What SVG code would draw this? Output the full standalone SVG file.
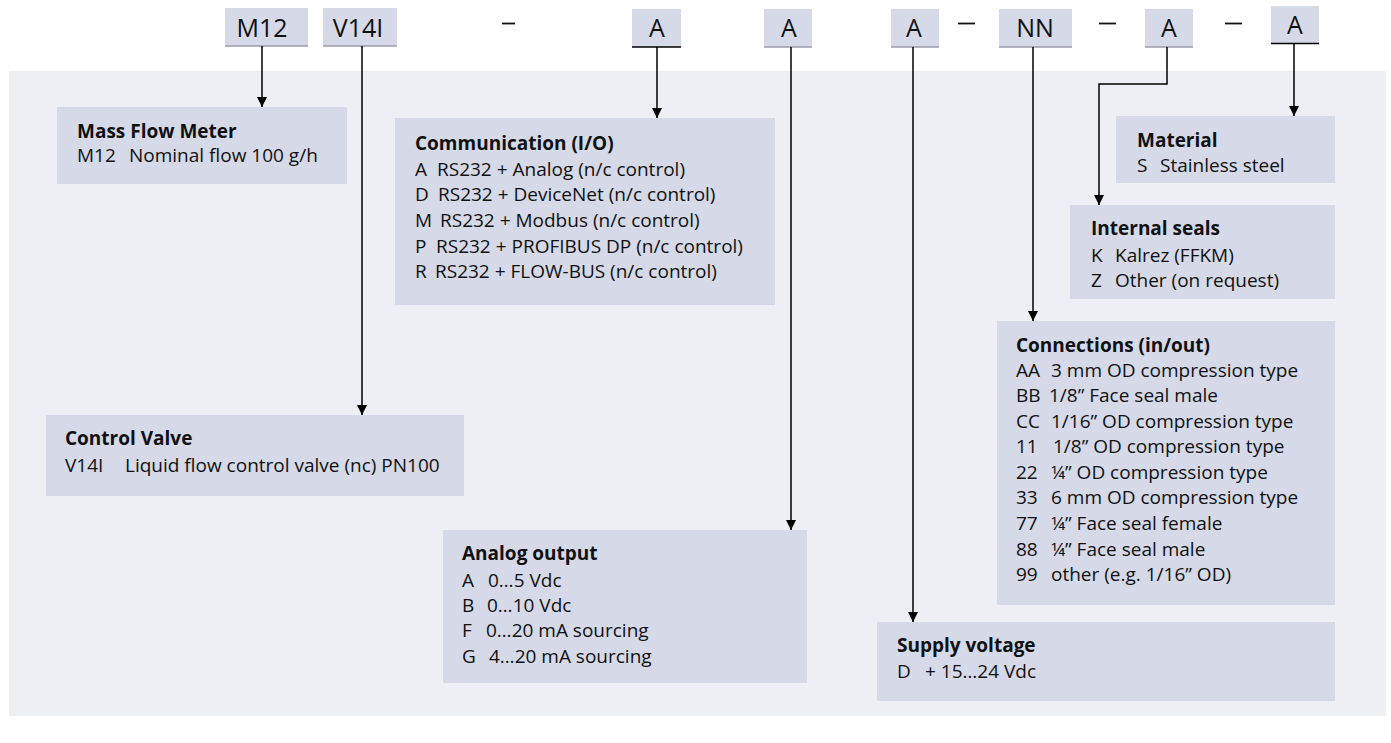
<svg xmlns="http://www.w3.org/2000/svg" width="1391" height="743" viewBox="0 0 1391 743">
<style>
.panel{fill:#eeeff5}
.box{fill:#d5d9e8}
.hb{fill:#d5d9e8}
.hl{stroke:#9c9cac;stroke-width:1.5}
.hk{stroke:#000;stroke-width:1.5}
.ht{font-family:"Open Sans","Liberation Sans",sans-serif;font-size:25px;fill:#111;text-anchor:middle}
.t{font-family:"Open Sans","Liberation Sans",sans-serif;font-size:19px;fill:#111}
.b{font-weight:bold}
.c{fill:none;stroke:#000;stroke-width:1.5}
.dash{stroke:#111;stroke-width:1.8}
</style>
<defs>
<marker id="ah" viewBox="0 0 10 10" refX="10" refY="5" markerWidth="11" markerHeight="10" markerUnits="userSpaceOnUse" orient="auto">
<path d="M0,0 L10,5 L0,10 z" fill="#000"/>
</marker>
</defs>
<rect class="panel" x="9" y="71" width="1377" height="645"/>

<g id="header">
<g id="h-m12"><rect class="hb" x="225" y="8" width="83" height="38"/><line class="hl" x1="225" y1="46" x2="308" y2="46"/><text class="ht" x="262" y="37">M12</text></g>
<g id="h-v14i"><rect class="hb" x="323" y="8" width="74" height="38"/><line class="hl" x1="323" y1="46" x2="397" y2="46"/><text class="ht" x="358" y="37">V14I</text></g>
<line class="dash" x1="502" y1="23.5" x2="515" y2="23.5"/>
<g id="h-a1"><rect class="hb" x="632" y="9" width="49" height="38"/><line class="hk" x1="632" y1="47" x2="681" y2="47"/><text class="ht" x="657" y="37">A</text></g>
<g id="h-a2"><rect class="hb" x="764" y="9" width="48" height="38"/><line class="hl" x1="764" y1="47" x2="812" y2="47"/><text class="ht" x="789" y="37">A</text></g>
<g id="h-a3"><rect class="hb" x="891" y="9" width="48" height="38"/><line class="hl" x1="891" y1="47" x2="939" y2="47"/><text class="ht" x="914" y="37">A</text></g>
<line class="dash" x1="958" y1="23.5" x2="975" y2="23.5"/>
<g id="h-nn"><rect class="hb" x="999" y="9" width="73" height="38"/><line class="hl" x1="999" y1="47" x2="1072" y2="47"/><text class="ht" x="1035" y="37">NN</text></g>
<line class="dash" x1="1099" y1="23.5" x2="1116" y2="23.5"/>
<g id="h-a4"><rect class="hb" x="1145" y="9" width="48" height="38"/><line class="hl" x1="1145" y1="47" x2="1193" y2="47"/><text class="ht" x="1169" y="37">A</text></g>
<line class="dash" x1="1225" y1="23.5" x2="1242" y2="23.5"/>
<g id="h-a5"><rect class="hb" x="1271" y="6" width="48" height="37"/><line class="hk" x1="1271" y1="43.5" x2="1319" y2="43.5"/><text class="ht" x="1295" y="33.5">A</text></g>
</g>

<g id="connectors">
<line class="c" x1="262" y1="46" x2="262" y2="107" marker-end="url(#ah)"/>
<line class="c" x1="362" y1="46" x2="362" y2="415" marker-end="url(#ah)"/>
<line class="c" x1="657" y1="47" x2="657" y2="118" marker-end="url(#ah)"/>
<line class="c" x1="791" y1="47" x2="791" y2="530" marker-end="url(#ah)"/>
<line class="c" x1="913" y1="47" x2="913" y2="622" marker-end="url(#ah)"/>
<line class="c" x1="1033" y1="47" x2="1033" y2="321" marker-end="url(#ah)"/>
<path class="c" d="M1167,47 V84 H1099 V205" marker-end="url(#ah)"/>
<line class="c" x1="1294" y1="44" x2="1294" y2="116" marker-end="url(#ah)"/>
</g>

<g id="mass-flow-meter">
<rect class="box" x="57" y="107" width="290" height="77"/>
<text class="t b" x="77" y="138">Mass Flow Meter</text>
<text class="t" x="77" y="162">M12<tspan x="129">Nominal flow 100 g/h</tspan></text>
</g>

<g id="control-valve">
<rect class="box" x="46" y="415" width="418" height="81"/>
<text class="t b" x="65" y="445">Control Valve</text>
<text class="t" x="65" y="471.5">V14I<tspan x="125">Liquid flow control valve (nc) PN100</tspan></text>
</g>

<g id="communication">
<rect class="box" x="395" y="118" width="380" height="187"/>
<text class="t b" x="415" y="150">Communication (I/O)</text>
<text class="t" x="415" y="175.5">A<tspan x="437">RS232 + Analog (n/c control)</tspan></text>
<text class="t" x="415" y="201">D<tspan x="438">RS232 + DeviceNet (n/c control)</tspan></text>
<text class="t" x="415" y="226.7">M<tspan x="440">RS232 + Modbus (n/c control)</tspan></text>
<text class="t" x="415" y="252.5">P<tspan x="436">RS232 + PROFIBUS DP (n/c control)</tspan></text>
<text class="t" x="415" y="277.7">R<tspan x="435">RS232 + FLOW-BUS (n/c control)</tspan></text>
</g>

<g id="analog-output">
<rect class="box" x="443" y="530" width="364" height="153"/>
<text class="t b" x="462" y="560">Analog output</text>
<text class="t" x="462" y="586.7">A<tspan x="488">0…5 Vdc</tspan></text>
<text class="t" x="462" y="611.7">B<tspan x="487">0…10 Vdc</tspan></text>
<text class="t" x="462" y="637">F<tspan x="486">0…20 mA sourcing</tspan></text>
<text class="t" x="462" y="662.7">G<tspan x="489">4…20 mA sourcing</tspan></text>
</g>

<g id="material">
<rect class="box" x="1116" y="116" width="219" height="67"/>
<text class="t b" x="1137" y="146.7">Material</text>
<text class="t" x="1137" y="172">S<tspan x="1160">Stainless steel</tspan></text>
</g>

<g id="internal-seals">
<rect class="box" x="1070" y="205" width="265" height="94"/>
<text class="t b" x="1091" y="235">Internal seals</text>
<text class="t" x="1091" y="261.7">K<tspan x="1115">Kalrez (FFKM)</tspan></text>
<text class="t" x="1091" y="286.7">Z<tspan x="1115">Other (on request)</tspan></text>
</g>

<g id="connections">
<rect class="box" x="997" y="321" width="338" height="284"/>
<text class="t b" x="1016" y="351.7">Connections (in/out)</text>
<text class="t" x="1016" y="376.7">AA<tspan x="1051">3 mm OD compression type</tspan></text>
<text class="t" x="1016" y="402.3">BB<tspan x="1049">1/8” Face seal male</tspan></text>
<text class="t" x="1016" y="427.7">CC<tspan x="1051">1/16” OD compression type</tspan></text>
<text class="t" x="1016" y="453.3">11<tspan x="1053">1/8” OD compression type</tspan></text>
<text class="t" x="1016" y="479">22<tspan x="1051">¼” OD compression type</tspan></text>
<text class="t" x="1016" y="504.3">33<tspan x="1051">6 mm OD compression type</tspan></text>
<text class="t" x="1016" y="530">77<tspan x="1051">¼” Face seal female</tspan></text>
<text class="t" x="1016" y="555.7">88<tspan x="1051">¼” Face seal male</tspan></text>
<text class="t" x="1016" y="581">99<tspan x="1051">other (e.g. 1/16” OD)</tspan></text>
</g>

<g id="supply-voltage">
<rect class="box" x="877" y="622" width="458" height="79"/>
<text class="t b" x="897" y="651.7">Supply voltage</text>
<text class="t" x="897" y="677.7">D<tspan x="925">+ 15…24 Vdc</tspan></text>
</g>
</svg>
